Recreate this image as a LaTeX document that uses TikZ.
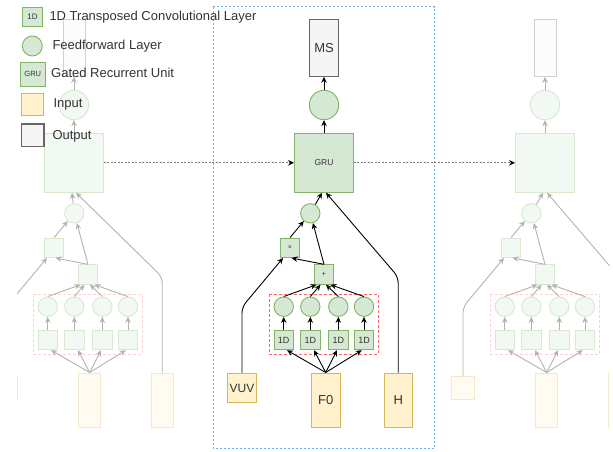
\documentclass[tikz,border=0pt]{standalone}
\usepackage{fontspec}
\setmainfont{Liberation Sans}
\usetikzlibrary{arrows.meta,calc}
\definecolor{gF}{HTML}{D5E8D4}
\definecolor{gS}{HTML}{82B366}
\definecolor{iF}{HTML}{FFF2CC}
\definecolor{iS}{HTML}{D6B656}
\definecolor{oF}{HTML}{F5F5F5}
\definecolor{oS}{HTML}{666666}
\definecolor{tC}{HTML}{333333}
\definecolor{rS}{HTML}{FF6666}
\definecolor{bS}{HTML}{66B2FF}
\definecolor{dS}{HTML}{7A7A7A}
\colorlet{gFf}{gF!30!white}
\colorlet{gSf}{gS!30!white}
\colorlet{iFf}{iF!30!white}
\colorlet{iSf}{iS!30!white}
\colorlet{oFf}{oF!30!white}
\colorlet{oSf}{oS!30!white}
\colorlet{rSf}{rS!30!white}
\colorlet{aCf}{black!30!white}
\newcommand\coltext[1]{#1}
\newcommand\hidetext[1]{}
\tikzset{
  base/.style={inner sep=0pt, line width=0.9pt},
  gnode/.style={base, draw=gS, fill=gF, text=tC},
  inode/.style={base, draw=iS, fill=iF, text=tC},
  onode/.style={base, draw=oS, fill=oF, text=tC},
  arr/.style={draw=black, line width=0.9pt, -{Stealth[length=6pt,width=5.5pt,inset=2pt]}},
  rbox/.style={draw=rS, line width=0.8pt, dash pattern=on 3pt off 2pt},
  sq/.style={rectangle, minimum size=#1},
  circ/.style={circle, minimum size=#1},
  fs/.style={font=\fontsize{#1}{#1}\selectfont},
  lbl/.style={inner sep=0pt, fs=13, text=tC},
  faded/.style={
    gnode/.style={base, draw=gSf, fill=gFf},
    inode/.style={base, draw=iSf, fill=iFf},
    onode/.style={base, draw=oSf, fill=oFf},
    arr/.style={draw=aCf, line width=0.9pt, -{Stealth[length=6pt,width=5.5pt,inset=2pt]}},
    rbox/.style={draw=rSf, line width=0.8pt, dash pattern=on 3pt off 2pt}
  }
}
% #1 prefix, #2 lower shift, #3 upper shift, #4 io width, #5 vuv size
\newcommand\mycol[5]{%
  \node[onode, rectangle, minimum width=#4pt, minimum height=57pt, fs=13] (#1M) at ({324+#3},47.8) {\coltext{MS}};
  \node[gnode, circ=29.4pt] (#1B) at ({324+#3},105) {};
  \node[gnode, sq=59pt, fs=8.5] (#1G) at ({324+#3},162.8) {\coltext{GRU}};
  \node[gnode, circ=19.4pt] (#1S) at ({310.3+#2},213.3) {};
  \node[gnode, sq=19.5pt, fs=7] (#1X) at ({290+#2},247.8) {\coltext{×}};
  \node[gnode, sq=19.5pt, fs=7] (#1P) at ({324+#2},274.5) {\coltext{+}};
  \draw[rbox] ({269+#2},294.3) rectangle ({378.3+#2},354);
  \foreach \i/\x in {1/283.7,2/310.3,3/338.3,4/364}{
    \node[gnode, circ=19.4pt] (#1C\i) at ({\x+#2},306.7) {};
    \node[gnode, sq=19.5pt, fs=9] (#1D\i) at ({\x+#2},340) {\coltext{1D}};
    \draw[arr] (#1D\i.north) -- (#1C\i.south);
  }
  \node[inode, sq=#5pt, fs=12] (#1V) at ({242+#2},388) {\coltext{VUV}};
  \node[inode, rectangle, minimum width=#4pt, minimum height=54.7pt, fs=13] (#1F) at ({325.7+#2},400.3) {\coltext{F0}};
  \node[inode, rectangle, minimum width=#4pt, minimum height=54.7pt, fs=13] (#1H) at ({398.2+#2},400.3) {\coltext{H}};
  \draw[arr] (#1G.north) -- (#1B.south);
  \draw[arr] (#1B.north) -- (#1M.south);
  \draw[arr] (#1S) -- ($(#1G.south)+(-2,0)$);
  \draw[arr, rounded corners=6pt] (#1H.north) -- ({398.2+#2},277) -- ($(#1G.south)+(2,0)$);
  \draw[arr] (#1X.north) -- (#1S);
  \draw[arr] (#1P.north) -- (#1S);
  \draw[arr] (#1P.north) -- ($(#1X.south)+(1.5,0)$);
  \draw[arr, rounded corners=6pt] (#1V.north) -- ({242+#2},307) -- ($(#1X.south)+(-7,0)$);
  \draw[arr] (#1C1.north) -- ($(#1P.south)+(-7.5,0)$);
  \draw[arr] (#1C2.north) -- ($(#1P.south)+(-3.5,0)$);
  \draw[arr] (#1C3.north) -- ($(#1P.south)+(2,0)$);
  \draw[arr] (#1C4.north) -- ($(#1P.south)+(6.5,0)$);
  \draw[arr] (#1F.north) -- ($(#1D1.south)+(3.3,0)$);
  \draw[arr] (#1F.north) -- ($(#1D2.south)+(3.7,0)$);
  \draw[arr] (#1F.north) -- ($(#1D3.south)+(-1.3,0)$);
  \draw[arr] (#1F.north) -- ($(#1D4.south)+(-2.3,0)$);
}
\begin{document}
\begin{tikzpicture}[x=1pt, y=-1pt]
\useasboundingbox (0,0) rectangle (613,451);
% faded left column
\begin{scope}[faded]
  \let\coltext\hidetext
  \clip (17,0) rectangle (613,451);
  \mycol{L}{-236}{-250}{22}{22.5}
\end{scope}
% faded right column
\begin{scope}[faded]
  \let\coltext\hidetext
  \clip (0,0) rectangle (609.5,451);
  \mycol{R}{221}{221}{22}{22.5}
\end{scope}
% blue frame
\draw[bS, line width=0.9pt, dash pattern=on 2pt off 2pt] (213.3,6.7) rectangle (434.3,448.3);
% central column
\mycol{C}{0}{0}{28.5}{29.5}
% recurrent connections
\draw[dS, line width=1pt, dash pattern=on 2pt off 1.5pt, -{Stealth[color=black,length=6pt,width=5.5pt,inset=2pt]}] (LG.east) -- (CG.west);
\draw[dS, line width=1pt, dash pattern=on 2pt off 1.5pt, -{Stealth[color=black,length=6pt,width=5.5pt,inset=2pt]}] (CG.east) -- (RG.west);
% legend
\node[gnode, sq=19.5pt, fs=8] (k1) at (32.5,16.7) {1D};
\node[gnode, circ=20pt] (k2) at (32.3,46) {};
\node[gnode, sq=24.5pt, fs=7.5] (k3) at (32.8,74.3) {GRU};
\node[inode, sq=22.5pt] (k4) at (32.3,104.5) {};
\node[onode, sq=22.7pt, line width=1.2pt] (k5) at (32.7,135.3) {};
\node[lbl, anchor=west] (t1) at (49.3,17.3) {1D Transposed Convolutional Layer};
\node[lbl, anchor=west] (t2) at (52.3,46) {Feedforward Layer};
\node[lbl, anchor=west] (t3) at (51,73.3) {Gated Recurrent Unit};
\node[lbl, anchor=west] (t4) at (53.3,104.7) {Input};
\node[lbl, anchor=west] (t5) at (52.3,136) {Output};
\end{tikzpicture}
\end{document}
